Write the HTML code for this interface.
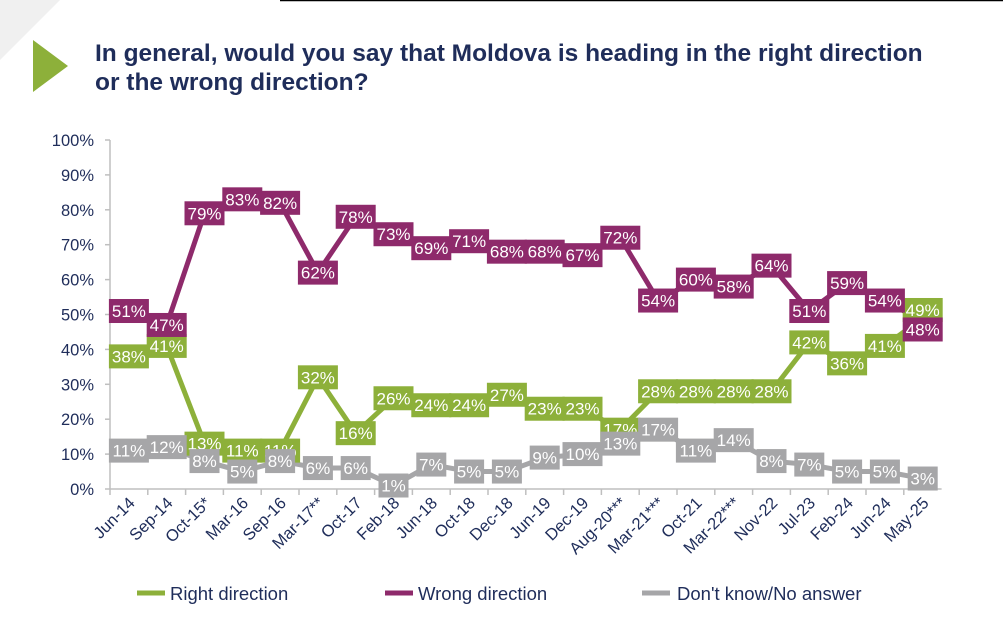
<!DOCTYPE html>
<html><head><meta charset="utf-8">
<style>
body{margin:0;background:#fff;width:1003px;height:625px;overflow:hidden;font-family:"Liberation Sans",sans-serif}
</style></head><body>
<svg width="1003" height="625" viewBox="0 0 1003 625" id="svg">
<polygon points="0,0 60,0 0,60" fill="#f0f0f0"/>
<line x1="280" y1="0.5" x2="1003" y2="0.5" stroke="#000" stroke-width="1.5"/>
<polygon points="33,40 68,66 33,92" fill="#8db03a"/>
<text x="95" y="61" font-size="24.5" font-weight="bold" fill="#1f2d5a">In general, would you say that Moldova is heading in the right direction</text>
<text x="95" y="90" font-size="24.5" font-weight="bold" fill="#1f2d5a">or the wrong direction?</text>
<g id="axes"></g><g id="lines"></g><g id="labels"></g>
<g>
<line x1="137" y1="593" x2="165" y2="593" stroke="#8db03a" stroke-width="5"/>
<text x="170" y="600" font-size="18.5" fill="#1f2d5a">Right direction</text>
<line x1="385" y1="593" x2="413" y2="593" stroke="#8e2a6b" stroke-width="5"/>
<text x="418" y="600" font-size="18.5" fill="#1f2d5a">Wrong direction</text>
<line x1="642" y1="593" x2="670" y2="593" stroke="#a6a6a8" stroke-width="5"/>
<text x="677" y="600" font-size="18.5" fill="#1f2d5a">Don't know/No answer</text>
</g>
</svg>
<script>
const categories=["Jun-14","Sep-14","Oct-15*","Mar-16","Sep-16","Mar-17**","Oct-17","Feb-18","Jun-18","Oct-18","Dec-18","Jun-19","Dec-19","Aug-20***","Mar-21***","Oct-21","Mar-22***","Nov-22","Jul-23","Feb-24","Jun-24","May-25"];
const rightDir=[38,41,13,11,11,32,16,26,24,24,27,23,23,17,28,28,28,28,42,36,41,49];
const wrongDir=[51,47,79,83,82,62,78,73,69,71,68,68,67,72,54,60,58,64,51,59,54,48];
const dontKnow=[11,12,8,5,8,6,6,1,7,5,5,9,10,13,17,11,14,8,7,5,5,3];
const yTicks=[0,10,20,30,40,50,60,70,80,90,100];
const NS="http://www.w3.org/2000/svg";
const x0=110,step=37.8,y0=489,yTop=140;
const xs=i=>x0+step*(i+0.5);
const ys=v=>y0-(y0-yTop)*v/100;
function mk(t,a,p){const e=document.createElementNS(NS,t);for(const k in a)e.setAttribute(k,a[k]);p.appendChild(e);return e;}
const ax=document.getElementById('axes');
const yl=mk('line',{x1:x0,y1:yTop,x2:x0,y2:y0,stroke:'#bfbfbf','stroke-width':1.5},ax);


const xl=mk('line',{x1:x0,y1:y0,x2:x0+step*categories.length,y2:y0,stroke:'#bfbfbf','stroke-width':1.5},ax);


yTicks.forEach(v=>{
 mk('line',{x1:x0-5,y1:ys(v),x2:x0,y2:ys(v),stroke:'#bfbfbf','stroke-width':1.5},ax);
 const t=mk('text',{x:x0-16,y:ys(v)+6,'text-anchor':'end','font-size':16.5,fill:'#1f2d5a'},ax);
 t.textContent=v+'%';
 
 
});
categories.forEach((c,i)=>{
 mk('line',{x1:x0+step*i,y1:y0,x2:x0+step*i,y2:y0+6,stroke:'#bfbfbf','stroke-width':1.5},ax);
 const cx=xs(i)+7,cy=y0+15;
 const t=mk('text',{x:cx,y:cy,'text-anchor':'end','font-size':16.5,fill:'#1f2d5a',transform:`rotate(-45 ${cx} ${cy})`},ax);
 t.textContent=c;
 
 
});
const series=[["right",rightDir,"#8db03a"],["wrong",wrongDir,"#8e2a6b"],["dk",dontKnow,"#a6a6a8"]];
const lg=document.getElementById('lines'),lb=document.getElementById('labels');
series.forEach(([n,d,c])=>{
 const p=mk('polyline',{points:d.map((v,i)=>xs(i)+','+ys(v)).join(' '),fill:'none',stroke:c,'stroke-width':5,'stroke-linejoin':'round'},lg);
 
 
});
series.forEach(([n,d,c],si)=>{
 d.forEach((v,i)=>{
  const g=mk('g',{},lb);
  
  
  const w=v<10?30:40;
  let dy=0;
  if(si<2){const other=si===0?wrongDir[i]:rightDir[i];if(Math.abs(other-v)<5)dy=v>=other?-8:8;}
  const y=ys(v)+dy;
  mk('rect',{x:xs(i)-w/2,y:y-12,width:w,height:24,fill:c},g);
  const t=mk('text',{x:xs(i),y:y+6,'text-anchor':'middle','font-size':17,fill:'#fff'},g);
  t.textContent=v+'%';
 });
});
</script>
</body></html>
